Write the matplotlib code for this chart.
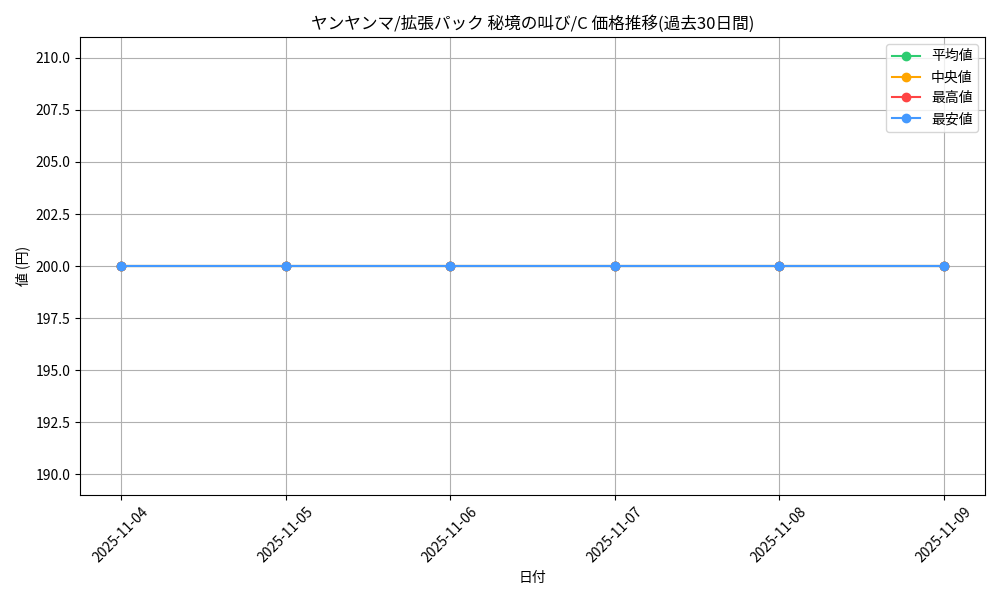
import matplotlib
matplotlib.use('Agg')
import matplotlib.pyplot as plt

plt.rcParams['font.family'] = ['Noto Sans CJK JP', 'DejaVu Sans']

dates = ['2025-11-04', '2025-11-05', '2025-11-06', '2025-11-07', '2025-11-08', '2025-11-09']
avg_price = [200, 200, 200, 200, 200, 200]
median_price = [200, 200, 200, 200, 200, 200]
max_price = [200, 200, 200, 200, 200, 200]
min_price = [200, 200, 200, 200, 200, 200]

fig, ax = plt.subplots(figsize=(10, 6), dpi=100)
ax.plot(dates, avg_price, marker='o', color='#2ecc71', label='平均値')
ax.plot(dates, median_price, marker='o', color='#ffa500', label='中央値')
ax.plot(dates, max_price, marker='o', color='#ff4444', label='最高値')
ax.plot(dates, min_price, marker='o', color='#4499ff', label='最安値')

ax.set_title('ヤンヤンマ/拡張パック 秘境の叫び/C 価格推移(過去30日間)')
ax.set_xlabel('日付')
ax.set_ylabel('値 (円)')
ax.grid(True)
ax.legend(loc='upper right')
plt.xticks(rotation=45)
plt.tight_layout()
plt.savefig('out.png')
